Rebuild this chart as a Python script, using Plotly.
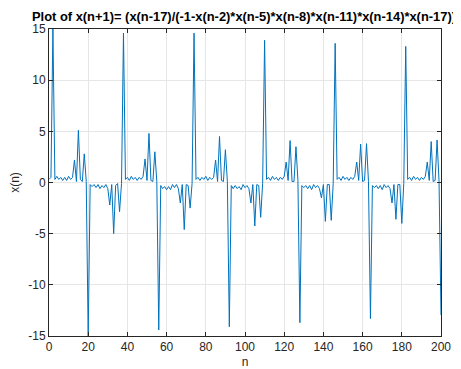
import plotly.graph_objects as go

# x(n) values, split into blocks of the sequence
x_block_0 = [0.3, 0.5, 15.0, 0.3, 0.6, 0.3, 0.5, 0.2, 0.5, 0.2, 0.6, 0.3, 0.5,
             2.2, 0.1, 5.1, 0.3, 0.1, 2.8, 0.1, -15.0,
             -0.2, -0.4, -0.2, -0.5, -0.2, -0.6, -0.3, -0.5, -0.2, -0.6,
             -2.2, -0.2, -5.0, -0.3, -0.1, -2.85, -0.1]            # n = 0..37
x_block_1 = [14.6, 0.3, 0.5, 0.2, 0.6, 0.3, 0.5, 0.2, 0.5, 0.3, 0.6,
             2.3, 0.2, 4.8, 0.2, 0.1, 3.0, 0.1, -14.4,
             -0.3, -0.6, -0.4, -0.7, -0.4, -0.7, -0.2, -0.5, -0.2, -0.6,
             -2.0, -0.2, -4.6, -0.2, -0.3, -2.5, -0.1]             # n = 38..73
x_block_2 = [14.6, 0.3, 0.5, 0.2, 0.5, 0.3, 0.6, 0.2, 0.5, 0.3, 0.5,
             2.2, 0.1, 4.5, 0.2, 0.1, 3.2, 0.1, -14.1,
             -0.3, -0.6, -0.3, -0.6, -0.4, -0.7, -0.2, -0.5, -0.3, -0.6,
             -2.0, -0.2, -4.25, -0.2, -0.3, -3.4, -0.1]            # n = 74..109
x_block_3 = [13.9, 0.3, 0.5, 0.2, 0.6, 0.3, 0.5, 0.2, 0.5, 0.3, 0.6,
             2.0, 0.2, 4.1, 0.1, 0.1, 3.5, 0.2, -13.7,
             -0.3, -0.5, -0.3, -0.6, -0.3, -0.7, -0.2, -0.5, -0.3, -0.6,
             -1.5, -0.2, -3.8, -0.2, -0.2, -3.7, -0.1]             # n = 110..145
x_block_4 = [13.6, 0.3, 0.5, 0.2, 0.6, 0.3, 0.5, 0.2, 0.5, 0.3, 0.6,
             2.0, 0.2, 3.75, 0.1, 0.2, 3.8, 0.1, -13.3,
             -0.3, -0.5, -0.3, -0.6, -0.3, -0.7, -0.2, -0.5, -0.3, -0.6,
             -2.0, -0.2, -3.6, -0.2, -0.2, -4.0, -0.1]             # n = 146..181
x_block_5 = [13.3, 0.3, 0.5, 0.2, 0.6, 0.3, 0.5, 0.2, 0.5, 0.3, 0.6,
             2.0, 0.2, 4.0, 0.1, 0.2, 4.15, 0.1, -12.95]           # n = 182..200

x_values = x_block_0 + x_block_1 + x_block_2 + x_block_3 + x_block_4 + x_block_5
n_values = list(range(len(x_values)))

x_ticks = [0, 20, 40, 60, 80, 100, 120, 140, 160, 180, 200]
y_ticks = [-15, -10, -5, 0, 5, 10, 15]

title_text = "Plot of x(n+1)= (x(n-17)/(-1-x(n-2)*x(n-5)*x(n-8)*x(n-11)*x(n-14)*x(n-17))"
FONT = "Liberation Sans, Arial, sans-serif"

# the page adds an 8px body margin, so the figure is sized to fit inside it
W, H = 453, 361

fig = go.Figure()
fig.add_trace(go.Scatter(x=n_values, y=x_values, mode="lines",
                         line=dict(color="#0072BD", width=1)))

axis_common = dict(showline=True, linecolor="#262626", linewidth=1, mirror="ticks",
                   ticks="inside", ticklen=4, tickcolor="#262626", automargin=False,
                   showgrid=True, gridcolor="#e6e6e6", gridwidth=1, zeroline=False,
                   tickfont=dict(family=FONT, size=12, color="#262626"))

fig.update_layout(
    width=W, height=H,
    margin=dict(l=41, r=20, t=21, b=33, autoexpand=False),
    paper_bgcolor="white", plot_bgcolor="white",
    showlegend=False,
    title=dict(text="<b>" + title_text + "</b>", x=236 / W, xanchor="center",
               y=1 - 8.5 / H, yanchor="middle",
               font=dict(family=FONT, size=12.9, color="black")),
    xaxis=dict(range=[0, 200], tickvals=x_ticks, ticktext=[str(v) for v in x_ticks],
               title=dict(text="n", standoff=11,
                          font=dict(family=FONT, size=12, color="#262626")),
               **axis_common),
    yaxis=dict(range=[-15, 15], tickvals=y_ticks, ticktext=[str(v) for v in y_ticks],
               title=dict(text="x(n)", standoff=6,
                          font=dict(family=FONT, size=12, color="#262626")),
               **axis_common),
)

fig.write_html("out.html")
